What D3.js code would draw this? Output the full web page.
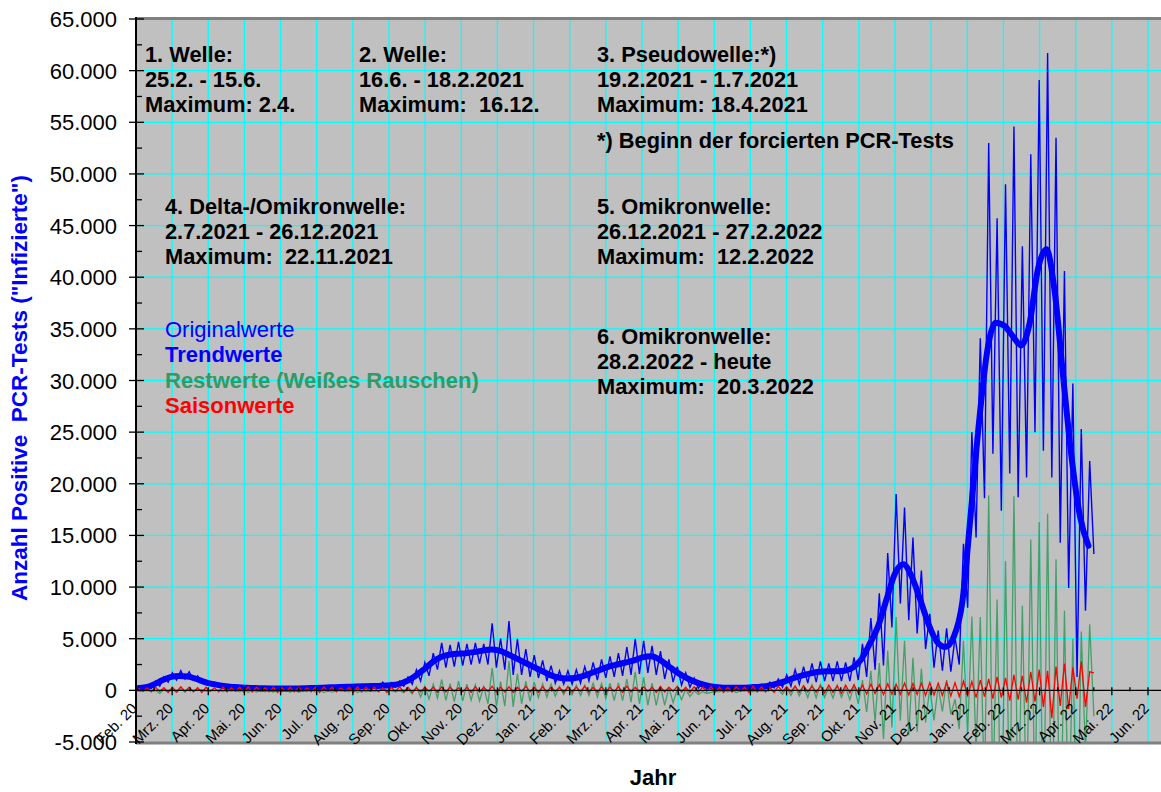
<!DOCTYPE html>
<html>
<head>
<meta charset="utf-8">
<script src="https://cdnjs.cloudflare.com/ajax/libs/d3/7.8.5/d3.min.js"></script>
<style>
body { margin: 0; background: #ffffff; }
text { font-family: Arial, "Liberation Sans", sans-serif; white-space: pre; }
</style>
</head>
<body>
<svg id="chart" width="1161" height="792"></svg>
<script>
// month labels of the x axis (equal spacing, Feb 2020 .. Jun 2022)
var monthLabels = ["Feb. 20","Mrz. 20","Apr. 20","Mai. 20","Jun. 20","Jul. 20","Aug. 20","Sep. 20","Okt. 20","Nov. 20","Dez. 20",
                   "Jan. 21","Feb. 21","Mrz. 21","Apr. 21","Mai. 21","Jun. 21","Jul. 21","Aug. 21","Sep. 21","Okt. 21","Nov. 21","Dez. 21",
                   "Jan. 22","Feb. 22","Mrz. 22","Apr. 22","Mai. 22","Jun. 22"];

var yTickValues = [-5000,0,5000,10000,15000,20000,25000,30000,35000,40000,45000,50000,55000,60000,65000];

// weekly values, week 0 starts 25.2.2020
// trend (Trendwerte) at the start of each week
var trendWeekly = [200,300,600,1000,1300,1400,1350,1100,800,600,
                   450,350,300,250,220,200,180,170,170,180,
                   200,230,260,290,320,350,380,400,420,450,
                   500,600,900,1400,2000,2700,3200,3450,3550,3600,
                   3700,3850,3950,3850,3500,3100,2700,2300,1900,1500,
                   1250,1150,1200,1400,1700,2000,2300,2500,2700,2900,
                   3200,3300,3000,2400,1800,1300,900,600,400,300,
                   250,250,250,300,350,450,650,900,1200,1450,
                   1650,1800,1850,1850,1900,2200,3000,4500,6200,8800,
                   11300,12200,11000,8800,6400,4700,4200,5200,8500,17000,
                   26000,33000,35600,35300,34300,33400,35500,40800,42700,38500,
                   30300,22500,16800,14000];

// Originalwerte: weekly high (day 1 of week) and weekly low (mid week)
var origHigh = [300,500,900,1300,1700,1900,1800,1400,1000,800,
                600,500,450,400,350,320,300,290,290,300,
                330,360,400,430,470,500,530,560,600,800,
                750,900,1300,2000,2700,3600,4600,4400,4700,4500,
                4600,4500,6500,5000,6700,5000,4000,3400,2900,2400,
                1900,1900,2000,2300,2700,3000,3300,3600,4200,5000,
                4800,4300,3800,3000,2300,1700,1200,800,550,450,
                400,400,450,550,600,800,1100,1500,2000,2300,
                2600,2800,2600,2800,2700,3200,4500,7000,9400,13300,
                19000,17700,14800,11600,7400,5800,6000,5100,14200,25000,
                34100,53000,45700,49000,54600,43000,51900,59100,61700,53500,
                40600,29700,25300,22200];

var origLow = [100,200,400,800,1000,1100,1000,800,600,400,
               300,200,150,120,100,100,90,80,80,90,
               100,120,150,170,190,210,230,250,270,280,
               300,400,600,900,1400,2000,2200,2300,2400,2500,
               2600,2500,2200,2000,1500,1500,1300,1200,900,700,
               600,600,700,900,1000,1200,1300,1400,1500,1600,
               1700,1500,1100,800,500,300,200,100,100,100,
               100,100,150,150,200,250,300,400,600,700,
               800,900,900,900,900,1000,1300,2000,2400,6100,
               8400,6800,5500,4000,2200,1900,1800,2500,8000,14800,
               18600,22900,17400,21000,18700,20600,25000,23200,20600,14300,
               9900,1300,7700,13200];

// Saisonwerte: weekly high and low
var saisonHigh = [200,250,300,250,300,350,300,250,300,250,
                  300,250,300,350,300,250,300,250,300,300,
                  250,300,350,300,250,300,350,300,300,250,
                  300,350,300,250,300,300,350,300,250,300,
                  350,300,400,300,350,300,400,300,350,300,
                  300,350,300,400,300,350,300,350,400,300,
                  350,300,350,300,400,300,350,300,350,300,
                  300,350,300,400,350,300,400,350,400,450,
                  400,450,500,450,500,550,500,600,550,650,
                  600,700,650,700,750,700,800,750,900,850,
                  1000,1100,1300,1200,1500,1400,1800,2000,1900,2300,
                  2600,2200,2800,1800];

var saisonLow = [-100,-150,-100,-200,-150,-100,-150,-200,-100,-150,
                 -150,-100,-200,-150,-100,-150,-200,-100,-150,-100,
                 -150,-200,-100,-150,-100,-200,-150,-100,-150,-200,
                 -100,-150,-200,-150,-100,-200,-150,-100,-150,-200,
                 -150,-100,-200,-150,-200,-100,-150,-200,-150,-100,
                 -200,-150,-100,-150,-200,-150,-100,-200,-150,-150,
                 -100,-200,-150,-100,-150,-200,-150,-100,-150,-200,
                 -150,-100,-200,-150,-150,-200,-100,-150,-200,-150,
                 -200,-250,-200,-300,-250,-300,-350,-300,-400,-350,
                 -400,-450,-400,-500,-450,-500,-550,-600,-500,-700,
                 -600,-800,-700,-1000,-900,-1200,-1100,-1600,-2700,-1500,
                 -1800,-800,-1600,1700];

var svg = d3.select("#chart");

// plot area config
var plotLeft = 136, plotRight = 1161, plotTop = 19, plotBottom = 742;
var gridColor = "#00ffff";
var bgColor = "#c0c0c0";

var xMonth = d3.scaleLinear().domain([0, 28]).range([136, 1148]);
var xDay = d3.scaleLinear().domain([0, 754]).range([137.5, 1044]);
var y = d3.scaleLinear().domain([-5000, 65000]).range([plotBottom, plotTop]);

var de = d3.formatLocale({decimal: ",", thousands: ".", grouping: [3], currency: ["", " €"], minus: "-"});
var fmt = de.format(",d");

// build the point lists
var origPts = [], saisonPts = [], restPts = [], trendPts = [];
trendWeekly.forEach(function(v, w) { trendPts.push({d: 7 * w, v: v}); });
origHigh.forEach(function(v, w) {
    var tNext = trendWeekly[Math.min(w + 1, trendWeekly.length - 1)];
    var tMid = (trendWeekly[w] + tNext) / 2;
    origPts.push({d: 7 * w + 1, v: v});
    origPts.push({d: 7 * w + 4.5, v: origLow[w]});
    saisonPts.push({d: 7 * w + 1, v: saisonHigh[w]});
    saisonPts.push({d: 7 * w + 4.5, v: saisonLow[w]});
    // Restwerte = Original - Trend - Saison
    restPts.push({d: 7 * w + 1, v: v - trendWeekly[w] - saisonHigh[w]});
    restPts.push({d: 7 * w + 4.5, v: origLow[w] - tMid - saisonLow[w]});
});

// background
svg.append("rect")
    .attr("x", plotLeft).attr("y", plotTop)
    .attr("width", plotRight - plotLeft).attr("height", plotBottom - plotTop)
    .style("fill", bgColor);

svg.append("clipPath").attr("id", "plotclip")
    .append("rect")
    .attr("x", plotLeft).attr("y", plotTop)
    .attr("width", plotRight - plotLeft).attr("height", plotBottom - plotTop);

// grid
var grid = svg.append("g").attr("id", "grid");
grid.selectAll("line.h")
    .data(yTickValues.slice(1, -1))
    .enter().append("line")
    .attr("class", "h")
    .attr("x1", plotLeft).attr("x2", plotRight)
    .attr("y1", function(d) { return y(d); })
    .attr("y2", function(d) { return y(d); })
    .style("stroke", gridColor).style("stroke-width", 1.3);
grid.selectAll("line.v")
    .data(monthLabels.slice(1))
    .enter().append("line")
    .attr("class", "v")
    .attr("x1", function(d, i) { return xMonth(i + 1); })
    .attr("x2", function(d, i) { return xMonth(i + 1); })
    .attr("y1", plotTop).attr("y2", plotBottom)
    .style("stroke", gridColor).style("stroke-width", 1.3);

// top / bottom border
svg.append("line").attr("x1", plotLeft).attr("x2", plotRight).attr("y1", plotTop - 0.5).attr("y2", plotTop - 0.5)
    .style("stroke", "#808080").style("stroke-width", 3);
svg.append("line").attr("x1", plotLeft).attr("x2", plotRight).attr("y1", plotBottom + 1).attr("y2", plotBottom + 1)
    .style("stroke", "#808080").style("stroke-width", 3);

// series
var series = svg.append("g").attr("clip-path", "url(#plotclip)");
var line = d3.line()
    .x(function(p) { return xDay(p.d); })
    .y(function(p) { return y(p.v); });

series.append("path").datum(restPts)
    .attr("d", line)
    .style("fill", "none").style("stroke", "#2e9a5c").style("stroke-width", 1.3).style("opacity", 0.85);

// x axis at zero
var xAxis = svg.append("g").attr("id", "x-axis");
xAxis.append("line")
    .attr("x1", plotLeft).attr("x2", plotRight)
    .attr("y1", y(0)).attr("y2", y(0))
    .style("stroke", "#000").style("stroke-width", 1.3);
xAxis.selectAll("line.major")
    .data(monthLabels)
    .enter().append("line")
    .attr("class", "major")
    .attr("x1", function(d, i) { return xMonth(i); })
    .attr("x2", function(d, i) { return xMonth(i); })
    .attr("y1", y(0) - 3).attr("y2", y(0) + 5)
    .style("stroke", "#000").style("stroke-width", 1.3);
xAxis.selectAll("line.minor")
    .data(monthLabels.slice(1))
    .enter().append("line")
    .attr("class", "minor")
    .attr("x1", function(d, i) { return xMonth(i + 0.5); })
    .attr("x2", function(d, i) { return xMonth(i + 0.5); })
    .attr("y1", y(0) - 3).attr("y2", y(0) + 1)
    .style("stroke", "#000").style("stroke-width", 1.3);

series.append("path").datum(origPts)
    .attr("d", line)
    .style("fill", "none").style("stroke", "#0000ff").style("stroke-width", 1.4);

series.append("path").datum(trendPts)
    .attr("d", line.curve(d3.curveMonotoneX))
    .style("fill", "none").style("stroke", "#0000ff").style("stroke-width", 6)
    .style("stroke-linecap", "round").style("stroke-linejoin", "round");

series.append("path").datum(saisonPts)
    .attr("d", line.curve(d3.curveLinear))
    .style("fill", "none").style("stroke", "#ff0000").style("stroke-width", 1.3);

// x tick labels, rotated
xAxis.selectAll("text")
    .data(monthLabels)
    .enter().append("text")
    .attr("transform", function(d, i) { return "translate(" + (xMonth(i) + 2) + "," + (y(0) + 19) + ") rotate(-45)"; })
    .attr("text-anchor", "end")
    .style("font-size", "15px")
    .style("fill", "#000")
    .text(function(d) { return d; });

// y axis
var yAxis = svg.append("g").attr("id", "y-axis");
yAxis.append("line")
    .attr("x1", plotLeft).attr("x2", plotLeft)
    .attr("y1", plotTop - 2).attr("y2", plotBottom + 2)
    .style("stroke", "#000").style("stroke-width", 2);
yAxis.selectAll("line.major")
    .data(yTickValues)
    .enter().append("line")
    .attr("class", "major")
    .attr("x1", plotLeft - 7).attr("x2", plotLeft + 8)
    .attr("y1", function(d) { return y(d); })
    .attr("y2", function(d) { return y(d); })
    .style("stroke", "#000").style("stroke-width", 1.3);
yAxis.selectAll("line.minor")
    .data(yTickValues.slice(1))
    .enter().append("line")
    .attr("class", "minor")
    .attr("x1", plotLeft).attr("x2", plotLeft + 6)
    .attr("y1", function(d) { return y(d - 2500); })
    .attr("y2", function(d) { return y(d - 2500); })
    .style("stroke", "#000").style("stroke-width", 1.3);
yAxis.selectAll("text")
    .data(yTickValues)
    .enter().append("text")
    .attr("x", 117)
    .attr("y", function(d) { return y(d) + 8; })
    .attr("text-anchor", "end")
    .style("font-size", "22px")
    .style("fill", "#000")
    .text(function(d) { return fmt(d); });

// axis titles
svg.append("text")
    .attr("transform", "translate(27,388) rotate(-90)")
    .attr("text-anchor", "middle")
    .style("font-size", "22.5px").style("font-weight", "bold").style("fill", "#0000ff")
    .text("Anzahl Positive  PCR-Tests (\"Infizierte\")");
svg.append("text")
    .attr("x", 653).attr("y", 785)
    .attr("text-anchor", "middle")
    .style("font-size", "22px").style("font-weight", "bold").style("fill", "#000")
    .text("Jahr");

// wave annotations
var notes = [
    {x: 145, y: 62, t: ["1. Welle:", "25.2. - 15.6.", "Maximum: 2.4."]},
    {x: 359, y: 62, t: ["2. Welle:", "16.6. - 18.2.2021", "Maximum:  16.12."]},
    {x: 597, y: 62, t: ["3. Pseudowelle:*)", "19.2.2021 - 1.7.2021", "Maximum: 18.4.2021"]},
    {x: 597, y: 148, t: ["*) Beginn der forcierten PCR-Tests"]},
    {x: 165, y: 214, t: ["4. Delta-/Omikronwelle:", "2.7.2021 - 26.12.2021", "Maximum:  22.11.2021"]},
    {x: 597, y: 214, t: ["5. Omikronwelle:", "26.12.2021 - 27.2.2022", "Maximum:  12.2.2022"]},
    {x: 597, y: 344, t: ["6. Omikronwelle:", "28.2.2022 - heute", "Maximum:  20.3.2022"]}
];
notes.forEach(function(n) {
    svg.append("g").selectAll("text")
        .data(n.t)
        .enter().append("text")
        .attr("x", n.x)
        .attr("y", function(d, i) { return n.y + i * 25; })
        .style("font-size", "21.8px").style("font-weight", "bold").style("fill", "#000")
        .text(function(d) { return d; });
});

// legend
var legendItems = [
    {t: "Originalwerte", c: "#0000ff", w: "normal"},
    {t: "Trendwerte", c: "#0000ff", w: "bold"},
    {t: "Restwerte (Weißes Rauschen)", c: "#339966", w: "bold"},
    {t: "Saisonwerte", c: "#ff0000", w: "bold"}
];
svg.append("g").attr("id", "legend").selectAll("text")
    .data(legendItems)
    .enter().append("text")
    .attr("x", 165)
    .attr("y", function(d, i) { return 337 + i * 25.4; })
    .style("font-size", "22px")
    .style("font-weight", function(d) { return d.w; })
    .style("fill", function(d) { return d.c; })
    .text(function(d) { return d.t; });
</script>
</body>
</html>
